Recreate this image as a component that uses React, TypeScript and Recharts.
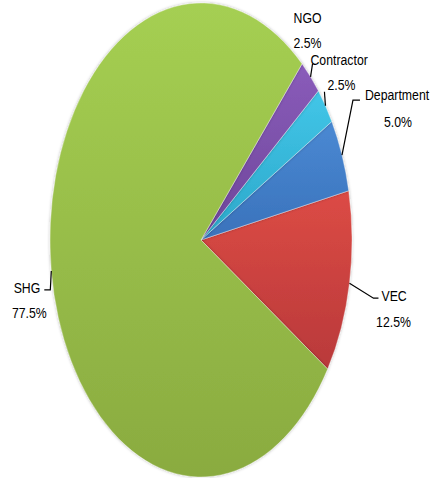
import { Pie, PieChart } from 'recharts'

// pie is drawn flattened into an ellipse, like the Excel 3D-ish original
const names = ['VEC', 'Department', 'Contractor', 'NGO', 'SHG']
const shares = [12.5, 5.0, 2.5, 2.5, 77.5]
const colors = ['#dc4b45', '#4a89d3', '#42c6e8', '#8a5cba', '#a5cf52']
const darkColors = ['#b9393a', '#3a72bb', '#2ba7c9', '#6d4599', '#8aab40']

const X_SCALE = 151 / 237
const FONT_SQUEEZE = 0.82 // narrow look, like Calibri / Arial Narrow

// label placement relative to the slice edge point (Excel style leaders)
const labelLayout: Record<string, any> = {
	NGO: { elbow: [2, -13], tail: 0, name: [-3, -54, 'middle'], pct: [-3, -29] },
	Contractor: { elbow: [-1, -14], tail: 0, name: [-15, -41, 'start'], pct: [16, -16] },
	Department: { elbow: [11, -55], tail: 7, name: [23, -55, 'start'], pct: [56, -28] },
	VEC: { elbow: [24, 15], tail: 5, name: [32, 18, 'start'], pct: [44, 44] },
	SHG: { elbow: [-1, 19], tail: -6, name: [-11, 22, 'end'], pct: [-22, 47] },
}

const data = names.map((n, i) => ({ name: n, value: shares[i], idx: i }))

const RAD = Math.PI / 180

const ellipsePoint = (cx: number, cy: number, r: number, deg: number) => [
	cx + r * X_SCALE * Math.cos(deg * RAD),
	cy - r * Math.sin(deg * RAD),
]

const EllipseSector = (props: any) => {
	const { cx, cy, outerRadius, startAngle, endAngle, payload } = props
	const i = payload?.idx ?? props.idx ?? 0
	const [x1, y1] = ellipsePoint(cx, cy, outerRadius, startAngle)
	const [x2, y2] = ellipsePoint(cx, cy, outerRadius, endAngle)
	const large = Math.abs(endAngle - startAngle) > 180 ? 1 : 0
	const sweep = startAngle > endAngle ? 1 : 0
	const d = `M${cx},${cy} L${x1},${y1} A${outerRadius * X_SCALE},${outerRadius} 0 ${large} ${sweep} ${x2},${y2} Z`
	return (
		<path
			d={d}
			fill={`url(#grad${i})`}
			stroke='rgba(255,255,255,0.35)'
			strokeWidth={1}
			strokeLinejoin='round'
			filter='url(#softShadow)'
		/>
	)
}

const NarrowText = ({ x, y, anchor, children }: any) => (
	<text
		transform={`translate(${x},${y}) scale(${FONT_SQUEEZE},1)`}
		textAnchor={anchor}
		fontSize={15}
		fill='#000'
	>
		{children}
	</text>
)

const renderLabel = (props: any) => {
	const { cx, cy, outerRadius, midAngle, name, value } = props
	const lay = labelLayout[name]
	if (!lay) return null
	const [ex, ey] = ellipsePoint(cx, cy, outerRadius, midAngle)
	const bx = ex + lay.elbow[0]
	const by = ey + lay.elbow[1]
	const tx = bx + lay.tail
	return (
		<g key={name}>
			<polyline
				points={`${ex},${ey} ${bx},${by} ${tx},${by}`}
				fill='none'
				stroke='#000'
				strokeWidth={1.2}
			/>
			<NarrowText x={ex + lay.name[0]} y={ey + lay.name[1]} anchor={lay.name[2]}>
				{name}
			</NarrowText>
			<NarrowText x={ex + lay.pct[0]} y={ey + lay.pct[1]} anchor='middle'>
				{Number(value).toFixed(1)}%
			</NarrowText>
		</g>
	)
}

export default function App() {
	return (
		<div
			style={{
				position: 'absolute',
				left: 0,
				top: 0,
				width: 435,
				height: 478,
				background: '#fff',
				fontFamily: '"Liberation Sans", Arial, sans-serif',
			}}
		>
			<PieChart width={435} height={478} margin={{ top: 0, right: 0, bottom: 0, left: 0 }}>
				<defs>
					{colors.map((c, i) => (
						<linearGradient key={i} id={`grad${i}`} x1='0' y1='0' x2='0' y2='1'>
							<stop offset='0%' stopColor={c} />
							<stop offset='100%' stopColor={darkColors[i]} />
						</linearGradient>
					))}
					<filter id='softShadow' x='-10%' y='-10%' width='120%' height='120%'>
						<feDropShadow dx='0' dy='0' stdDeviation='1.5' floodColor='#000' floodOpacity='0.3' />
					</filter>
				</defs>
				<Pie
					data={data}
					dataKey='value'
					nameKey='name'
					cx={201}
					cy={240}
					innerRadius={0}
					outerRadius={237}
					startAngle={-33}
					endAngle={327}
					stroke='none'
					shape={EllipseSector}
					label={renderLabel}
					labelLine={false}
					isAnimationActive={false}
				/>
			</PieChart>
		</div>
	)
}
